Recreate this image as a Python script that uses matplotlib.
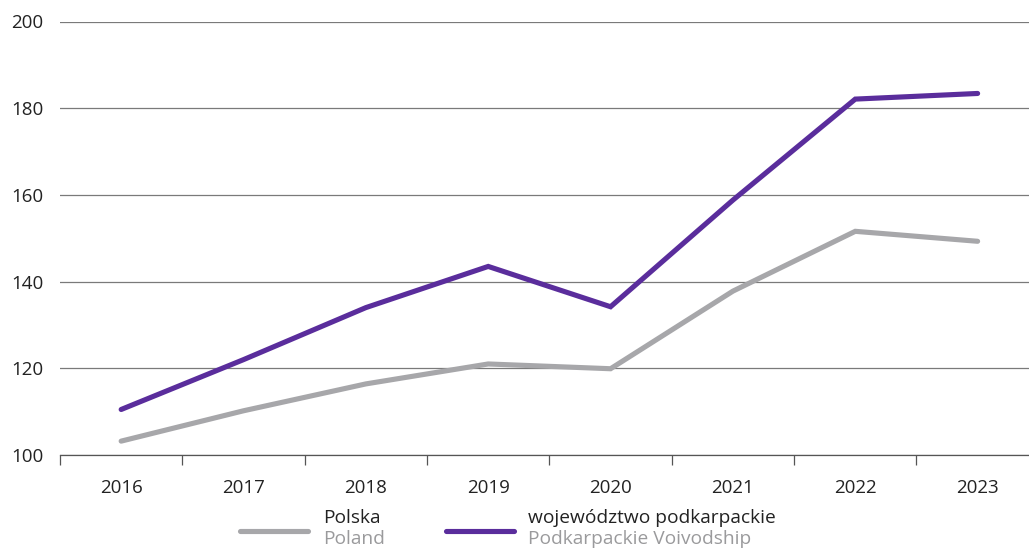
import matplotlib.pyplot as plt
from matplotlib.lines import Line2D
import numpy as np

plt.rcParams['font.family'] = ['Open Sans', 'DejaVu Sans']

# Data
years = ['2016', '2017', '2018', '2019', '2020', '2021', '2022', '2023']
polska = [103.2, 110.2, 116.4, 121.0, 119.9, 137.8, 151.6, 149.3]
podkarpackie = [110.5, 122.0, 134.0, 143.5, 134.2, 158.8, 182.1, 183.4]

gray = '#a7a7aa'
purple = '#5a2d9c'

fig = plt.figure(figsize=(10.29, 5.5), dpi=100)
ax = fig.add_axes([0.0583, 1 - 455 / 550, 0.9417, (455 - 21.5) / 550])

x = np.arange(len(years))
ax.plot(x, polska, color=gray, lw=3.7, solid_capstyle='round', solid_joinstyle='miter', zorder=3)
ax.plot(x, podkarpackie, color=purple, lw=3.7, solid_capstyle='round', solid_joinstyle='miter', zorder=4)

ax.set_ylim(100, 200)
ax.set_xlim(-0.5, 7.42)
ax.set_yticks([100, 120, 140, 160, 180, 200])
ax.yaxis.grid(True, color='#7a7a7a', lw=0.9)
ax.set_axisbelow(True)
ax.tick_params(axis='y', length=0, pad=12, labelsize=13.5, labelcolor='#222222')

ax.set_xticks(x)
ax.set_xticklabels(years)
ax.set_xticks(np.arange(-0.5, 7, 1), minor=True)
ax.tick_params(axis='x', which='major', length=0, pad=17, labelsize=13.5, labelcolor='#222222')
ax.tick_params(axis='x', which='minor', length=7.5, width=0.9, color='#555555', direction='out')

for s in ['top', 'right', 'left']:
    ax.spines[s].set_visible(False)
ax.spines['bottom'].set_color('#555555')
ax.spines['bottom'].set_linewidth(0.9)

# Legend (manual, two-line labels)
def legend_item(x0, x1, tx, label, sub, color):
    fig.add_artist(Line2D([x0 / 1029, x1 / 1029], [1 - 530.5 / 550] * 2, color=color,
                          lw=3.7, solid_capstyle='round', transform=fig.transFigure))
    fig.text(tx / 1029, 1 - 523 / 550, label, fontsize=13.8, color='#222222',
             va='baseline', ha='left')
    fig.text(tx / 1029, 1 - 544.5 / 550, sub, fontsize=13.8, color='#9a9a9c',
             va='baseline', ha='left')

legend_item(240, 308, 323, 'Polska', 'Poland', gray)
legend_item(446, 514, 528, 'województwo podkarpackie', 'Podkarpackie Voivodship', purple)

fig.savefig('out.png', dpi=100)
